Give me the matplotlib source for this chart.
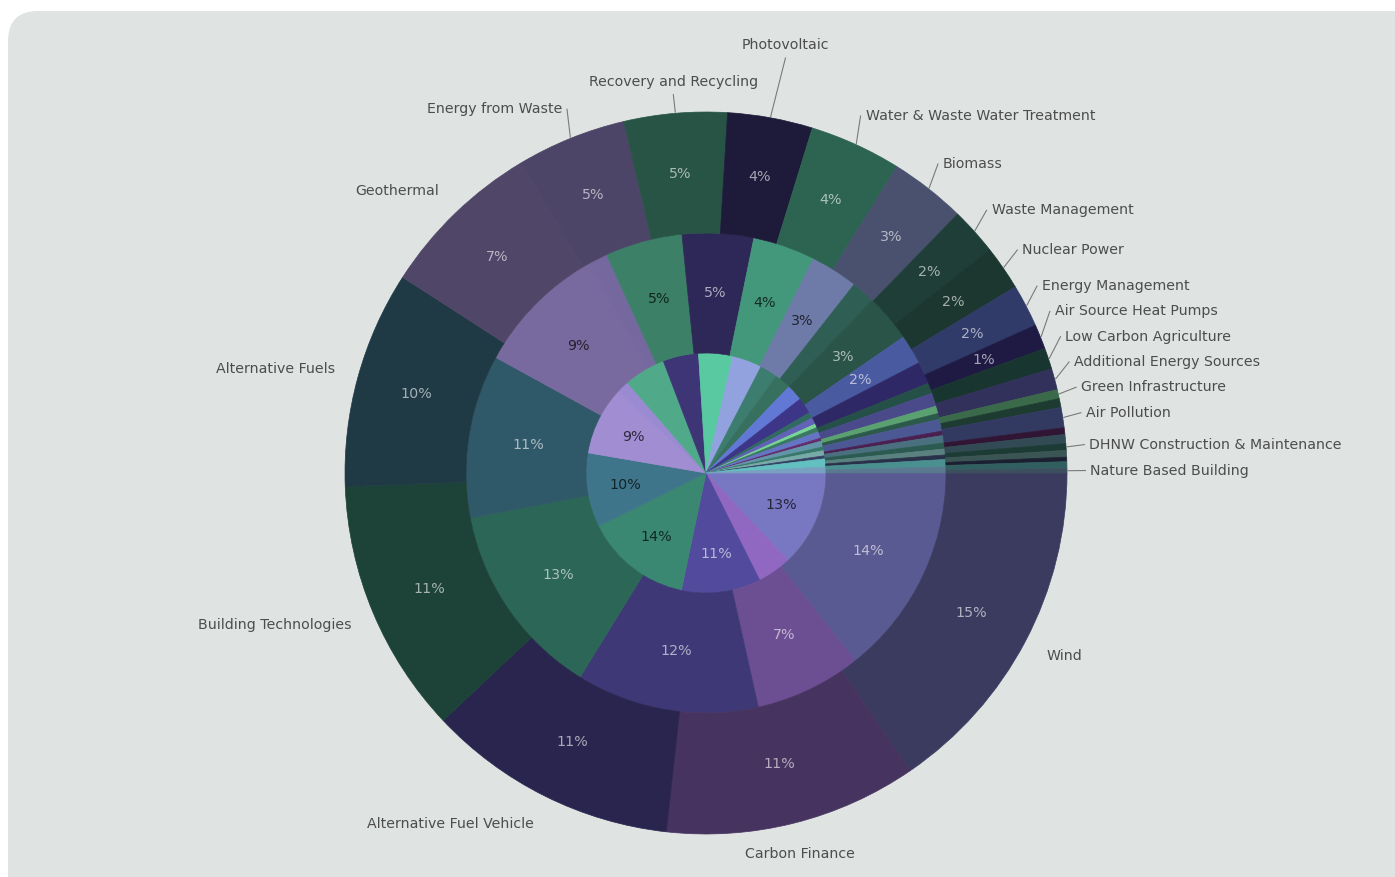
import numpy as np
import matplotlib.pyplot as plt
from matplotlib.patches import FancyBboxPatch
from matplotlib.colors import to_rgb

# categories in drawing order (clockwise from 3 o'clock); "" = slice left unlabelled
categories = [
    "Wind", "Carbon Finance", "Alternative Fuel Vehicle", "Building Technologies",
    "Alternative Fuels", "Geothermal", "Energy from Waste", "Recovery and Recycling",
    "Photovoltaic", "Water & Waste Water Treatment", "Biomass", "Waste Management",
    "Nuclear Power", "Energy Management", "Air Source Heat Pumps", "Low Carbon Agriculture",
    "Additional Energy Sources", "Green Infrastructure", "", "Air Pollution", "", "",
    "DHNW Construction & Maintenance", "", "", "", "Nature Based Building",
]

# share (%) per ring
inner = [13.0, 4.6, 10.7, 14.4, 10.0, 9.3, 1.6, 5.6, 4.8, 4.6, 4.0, 2.4, 2.2, 2.2, 2.2,
         0.8, 0.9, 0.5, 0.6, 0.9, 0.4, 0.8, 0.5, 0.7, 0.4, 1.1, 0.8]
middle = [14.3, 7.2, 12.3, 13.2, 11.0, 8.9, 1.3, 5.2, 4.8, 4.2, 3.2, 1.6, 3.2, 2.0, 1.5,
          0.7, 0.9, 0.5, 0.4, 0.8, 0.3, 0.5, 0.4, 0.4, 0.3, 0.5, 0.4]
outer = [15.4, 11.3, 11.2, 11.4, 9.7, 7.3, 4.9, 4.6, 3.8, 4.1, 3.4, 2.1, 2.0, 1.9, 1.1,
         0.95, 0.95, 0.4, 0.4, 0.9, 0.3, 0.4, 0.3, 0.3, 0.2, 0.3, 0.2]

base_colors = [
    "#5a5a92", "#6c4e92", "#3e3876", "#2c6656", "#2f5868", "#786a9e", "#74689e",
    "#3c8068", "#2e2858", "#43977a", "#6e7aa8", "#2e5e54", "#2a5448", "#4a5aa0",
    "#2e2866", "#245048", "#4a4a8a", "#5aa070", "#2c5a4a", "#4c5894", "#4a2050",
    "#4a7080", "#2a5a50", "#5a8080", "#28304a", "#4a9090", "#5a7890",
]


def shade(c, f):
    return tuple(min(1.0, v * f) for v in to_rgb(c))


fig = plt.figure(figsize=(13.95, 8.77), dpi=100)
fig.patch.set_facecolor("white")
bg = FancyBboxPatch((0.08, -0.5), 14.5, 9.16, boxstyle="round,pad=0,rounding_size=0.3",
                    transform=fig.dpi_scale_trans, facecolor="#dfe4e2",
                    edgecolor="none", zorder=-1)
fig.add_artist(bg)

ax = fig.add_axes([0, 0, 1, 1])
ax.set_facecolor("none")

R1, R2 = 120 / 361, 240 / 361
# values, radius, ring width, colour factor, min % for a label, pct distance
rings = [
    (inner, R1, None, 1.33, 6.0, 0.68),
    (middle, R2, R2 - R1, 1.0, 1.7, 0.75),
    (outer, 1.0, 1.0 - R2, 0.66, 1.0, 0.832),
]

outer_wedges = None
for vals, radius, width, fac, thr, pctd in rings:
    cols = [shade(c, fac) for c in base_colors]
    wp = dict(linewidth=0.5)
    if width:
        wp["width"] = width
    wedges, _, autotexts = ax.pie(
        vals, radius=radius, colors=cols, startangle=0, counterclock=False,
        autopct=lambda p, t=thr: f"{p:.0f}%" if p >= t else "",
        pctdistance=pctd, wedgeprops=wp, textprops=dict(fontsize=10.3))
    for w, t in zip(wedges, autotexts):
        w.set_edgecolor(w.get_facecolor())
        r, g, b = w.get_facecolor()[:3]
        lum = 0.299 * r + 0.587 * g + 0.114 * b
        if lum > 0.4:
            t.set_color(tuple(v * 0.3 for v in (r, g, b)))
        else:
            t.set_color(tuple(0.4 * v + 0.6 for v in (r, g, b)))
    outer_wedges = wedges

# category labels around the outer ring
r_lab = 1.065
gap = 0.07
label_nudge = {"Photovoltaic": (0.03, 0.115)}
items = []
for w, name, v in zip(outer_wedges, categories, outer):
    if not name:
        continue
    a = np.deg2rad((w.theta1 + w.theta2) / 2)
    items.append(dict(name=name, a=a, v=v, x=r_lab * np.cos(a),
                      y=r_lab * np.sin(a) + 0.022 * np.sin(a)))

right_up = sorted([it for it in items if it["x"] > 0 and it["y"] >= 0], key=lambda d: d["y"])
for prev, cur in zip(right_up, right_up[1:]):
    if cur["y"] < prev["y"] + gap:
        cur["y"] = prev["y"] + gap
        cur["x"] = np.sqrt(max(r_lab ** 2 - cur["y"] ** 2, 0))

for it in items:
    x, y = it["x"], it["y"]
    if abs(np.cos(it["a"])) < 0.28:
        ha = "center"
    else:
        ha = "left" if x > 0 else "right"
    dx, dy = label_nudge.get(it["name"], (0, 0))
    x, y = x + dx, y + dy
    ax.text(x, y, it["name"], ha=ha, va="center", fontsize=10.2, color="#4d4d4d")
    if it["v"] < 6:
        ex, ey = np.cos(it["a"]) * 1.003, np.sin(it["a"]) * 1.003
        if ha == "center":
            tx, ty = x, y - 0.035 * np.sign(y)
        elif ha == "left":
            tx, ty = x - 0.014, y
        else:
            tx, ty = x + 0.014, y
        ax.plot([ex, tx], [ey, ty], color="#7a7a7a", lw=0.8)

cx, cy, s = 706, 473, 361
ax.set_xlim(-cx / s, (1395 - cx) / s)
ax.set_ylim(-(877 - cy) / s, cy / s)
ax.set_aspect("auto")
ax.axis("off")

fig.savefig("out.png", dpi=100, facecolor=fig.get_facecolor())
